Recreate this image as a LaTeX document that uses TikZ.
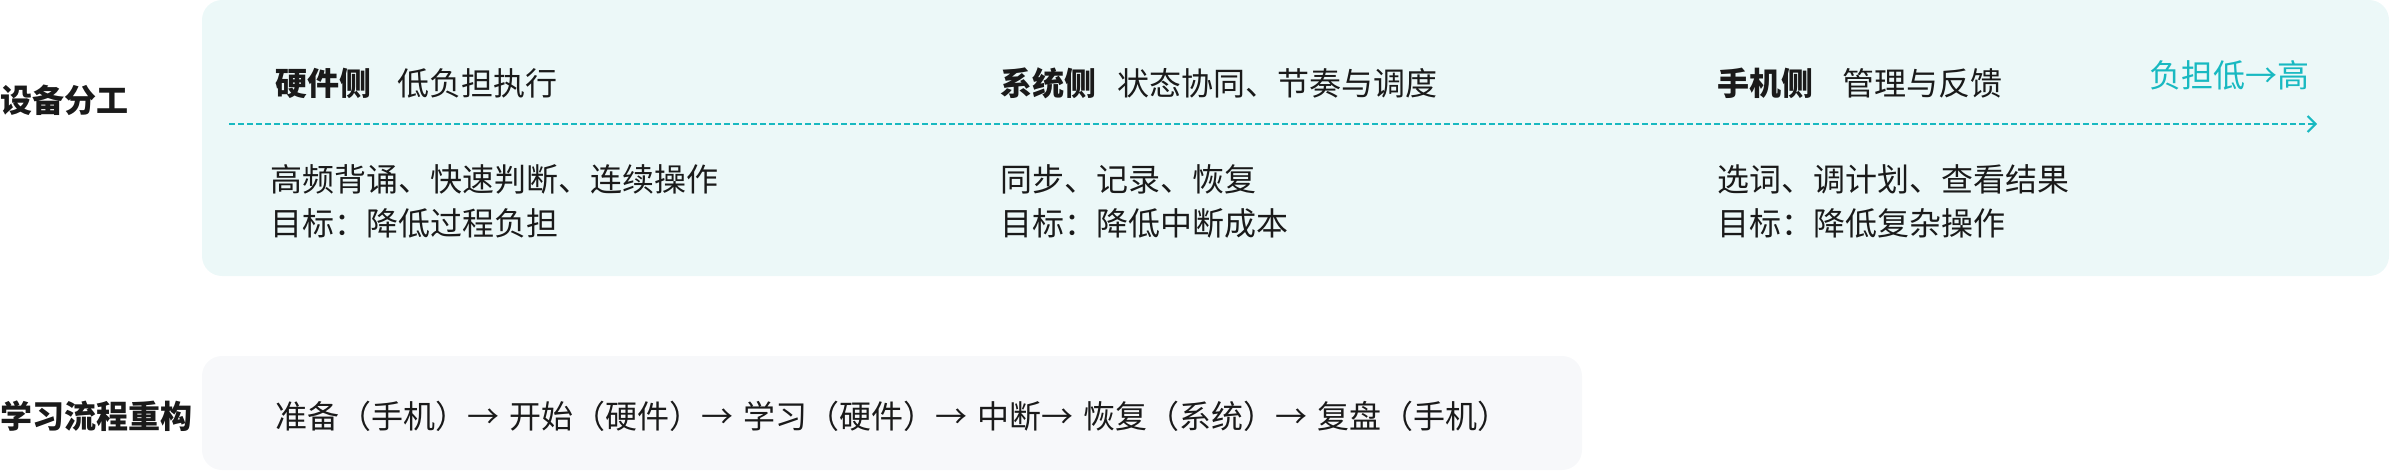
\documentclass[tikz,border=0pt]{standalone}
\usepackage{fontspec}
\setmainfont{Noto Sans CJK SC}
\usetikzlibrary{arrows.meta}
\definecolor{panelA}{HTML}{ECF8F8}
\definecolor{panelB}{HTML}{F7F8FA}
\definecolor{tealc}{HTML}{18B9C1}
\definecolor{inkc}{HTML}{1A1A1A}
\newcommand\flowarr{→\hspace{10pt}}
\tikzset{
  txt/.style={anchor=west, inner sep=0pt, text=inkc, font=\fontsize{32}{38}\selectfont},
  hd/.style={txt, font=\fontsize{32}{38}\selectfont\bfseries},
  panel/.style={rounded corners=20pt, draw=none},
}
\begin{document}
\begin{tikzpicture}[x=1pt, y=-1pt]
\useasboundingbox (0,0) rectangle (2400,472);
% panels
\path[panel, fill=panelA] (202,0) rectangle (2389,276);
\path[panel, fill=panelB] (202,356) rectangle (1582,470);
% row labels
\node[hd] (rowA) at (0,100) {设备分工};
\node[hd] (rowB) at (0,416) {学习流程重构};
% axis
\coordinate (axs) at (229,124);
\coordinate (axe) at (2317,124);
\draw[tealc, line width=2pt, dash pattern=on 6pt off 3pt, -{Straight Barb[length=8pt,width=16pt,line width=2pt]}] (axs) -- (axe);
\node[txt, text=tealc] (axlab) at (2149,75) {负担低→高};
% hardware column
\node[hd] (hwH) at (275,83) {硬件侧};
\node[txt] (hwD) at (397,83) {低负担执行};
\node[txt] (hw1) at (270,179) {高频背诵、快速判断、连续操作};
\node[txt] (hw2) at (270,223) {目标：降低过程负担};
% system column
\node[hd] (syH) at (1000,83) {系统侧};
\node[txt] (syD) at (1117,83) {状态协同、节奏与调度};
\node[txt] (sy1) at (1000,179) {同步、记录、恢复};
\node[txt] (sy2) at (1000,223) {目标：降低中断成本};
% phone column
\node[hd] (phH) at (1717,83) {手机侧};
\node[txt] (phD) at (1842,83) {管理与反馈};
\node[txt] (ph1) at (1717,179) {选词、调计划、查看结果};
\node[txt] (ph2) at (1717,223) {目标：降低复杂操作};
% flow
\node[txt] (flow) at (275,416) {准备（手机）\flowarr 开始（硬件）\flowarr 学习（硬件）\flowarr 中断\flowarr 恢复（系统）\flowarr 复盘（手机）};
\end{tikzpicture}
\end{document}
